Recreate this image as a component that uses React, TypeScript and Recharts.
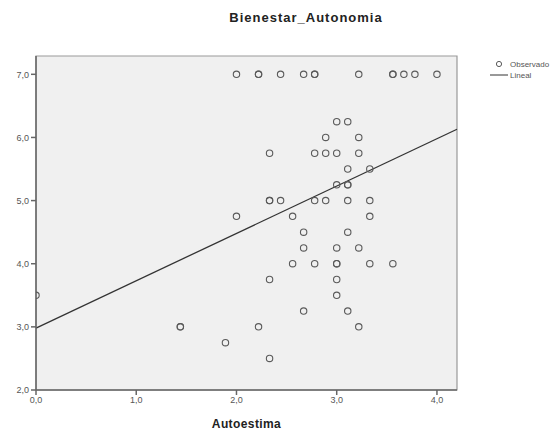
import React from "react";
import {
  ScatterChart,
  Scatter,
  XAxis,
  YAxis,
  ReferenceArea,
  ReferenceLine,
} from "recharts";

// Autoestima (x) and Bienestar_Autonomia (y)
const autoestima = [
  2.0, 2.22, 2.22, 2.44, 2.67, 2.78, 2.78, 3.22, 3.56, 3.56, 3.67, 3.78, 4.0,
  3.0, 3.11,
  2.89, 3.22,
  2.33, 2.78, 2.89, 3.0, 3.22,
  3.11, 3.33,
  3.0, 3.11, 3.11,
  2.33, 2.33, 2.44, 2.78, 2.89, 3.11, 3.33,
  2.0, 2.56, 3.33,
  2.67, 3.11,
  2.67, 3.0, 3.22,
  2.56, 2.78, 3.0, 3.0, 3.33, 3.56,
  2.33, 3.0,
  0.0, 3.0,
  2.67, 3.11,
  1.44, 1.44, 2.22, 3.22,
  1.89,
  2.33,
];
const bienestar = [
  7, 7, 7, 7, 7, 7, 7, 7, 7, 7, 7, 7, 7,
  6.25, 6.25,
  6.0, 6.0,
  5.75, 5.75, 5.75, 5.75, 5.75,
  5.5, 5.5,
  5.25, 5.25, 5.25,
  5.0, 5.0, 5.0, 5.0, 5.0, 5.0, 5.0,
  4.75, 4.75, 4.75,
  4.5, 4.5,
  4.25, 4.25, 4.25,
  4.0, 4.0, 4.0, 4.0, 4.0, 4.0,
  3.75, 3.75,
  3.5, 3.5,
  3.25, 3.25,
  3.0, 3.0, 3.0, 3.0,
  2.75,
  2.5,
];

// fitted line (Lineal)
const fitIntercept = 2.98;
const fitSlope = 0.75;

const xTicks = [0, 1, 2, 3, 4];
const yTicks = [2, 3, 4, 5, 6, 7];
const xDomain: [number, number] = [0, 4.2];
const yDomain: [number, number] = [2, 7.29];

const points = autoestima.map((x, i) => ({ x, y: bienestar[i] }));

const fmt = (v: number) => v.toFixed(1).replace(".", ",");
const font = "'Liberation Sans', Arial, sans-serif";

const Ring = (props: any) => {
  const { cx, cy } = props;
  if (cx == null || cy == null) return null;
  return <circle cx={cx} cy={cy} r={3.2} fill="none" stroke="#5a5a5a" strokeWidth={1.1} />;
};

export default function App() {
  return (
    <div
      style={{
        position: "absolute",
        left: 0,
        top: 0,
        width: 560,
        height: 433,
        background: "#fff",
        fontFamily: font,
      }}
    >
      <div
        style={{
          position: "absolute",
          top: 10,
          left: 206,
          width: 200,
          textAlign: "center",
          fontSize: 13,
          letterSpacing: 1,
          fontWeight: "bold",
          color: "#222",
        }}
      >
        Bienestar_Autonomia
      </div>
      <ScatterChart
        width={560}
        height={433}
        margin={{ top: 56, right: 103, bottom: 13, left: 6 }}
      >
        <XAxis
          type="number"
          dataKey="x"
          domain={xDomain}
          ticks={xTicks}
          tickFormatter={fmt}
          allowDataOverflow
          height={30}
          stroke="#666"
          strokeWidth={1.5}
          tickSize={5}
          tick={{ fontSize: 9, fill: "#555", fontFamily: font }}
          label={{
            value: "Autoestima",
            position: "insideBottom",
            offset: -8,
            style: {
              fontSize: 12,
              letterSpacing: 0.4,
              fontWeight: "bold",
              fill: "#222",
              fontFamily: font,
            },
          }}
        />
        <YAxis
          type="number"
          dataKey="y"
          domain={yDomain}
          ticks={yTicks}
          tickFormatter={fmt}
          allowDataOverflow
          width={30}
          stroke="#666"
          strokeWidth={1.5}
          tickSize={5}
          tick={{ fontSize: 9, fill: "#555", fontFamily: font }}
        />
        <ReferenceArea
          x1={xDomain[0]}
          x2={xDomain[1]}
          y1={yDomain[0]}
          y2={yDomain[1]}
          fill="#f0f0f0"
          fillOpacity={1}
          stroke="#999"
          strokeWidth={1.2}
        />
        <ReferenceLine
          segment={[
            { x: xDomain[0], y: fitIntercept + fitSlope * xDomain[0] },
            { x: xDomain[1], y: fitIntercept + fitSlope * xDomain[1] },
          ]}
          stroke="#333"
          strokeWidth={1.3}
        />
        <Scatter data={points} shape={<Ring />} isAnimationActive={false} />
      </ScatterChart>
      <svg
        style={{ position: "absolute", left: 490, top: 56 }}
        width={70}
        height={30}
      >
        <circle cx={9} cy={8} r={2.6} fill="none" stroke="#5a5a5a" strokeWidth={1} />
        <text x={20} y={11} fontSize={8} fill="#555" fontFamily={font}>
          Observado
        </text>
        <line x1={0} y1={19} x2={18} y2={19} stroke="#333" strokeWidth={1} />
        <text x={20} y={22} fontSize={8} fill="#555" fontFamily={font}>
          Lineal
        </text>
      </svg>
    </div>
  );
}
